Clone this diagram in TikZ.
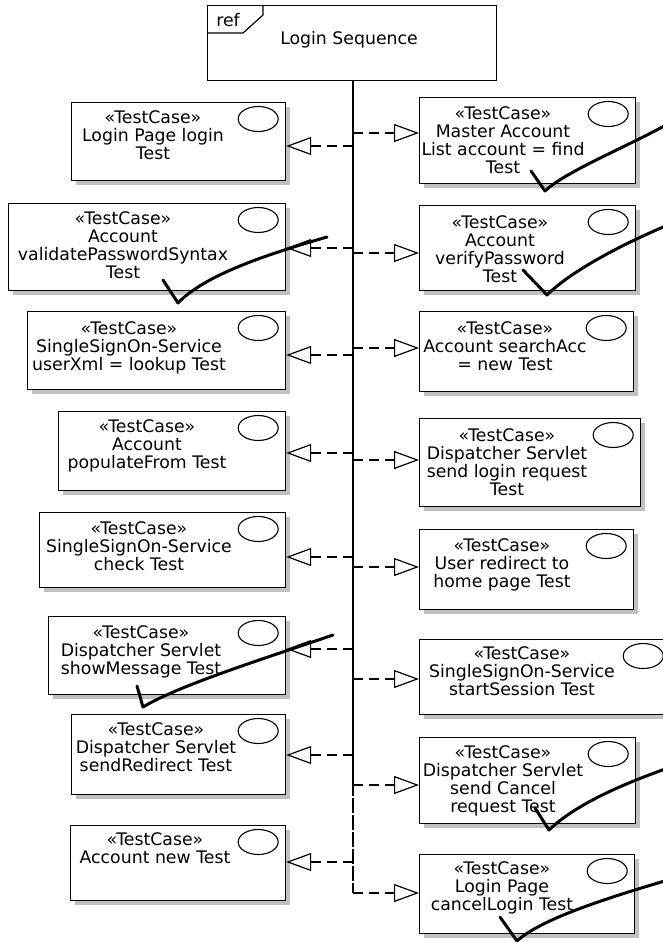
\documentclass[tikz,border=0pt]{standalone}
\usepackage{fontspec}
\setmainfont{DejaVu Sans}
\usetikzlibrary{arrows.meta,shapes.geometric,shadows}
\definecolor{shadowgray}{RGB}{192,192,192}

% one test-case box: name, left, top, right, bottom, text x, first-line y, text
\newcommand{\tcnode}[8]{%
  \node[tcbox, minimum width={#4-#2}, minimum height={#5-#3}] (#1) at (#2,-#3) {};
  \node[oval] (#1o) at ([shift={(-28pt,-17pt)}]#1.north east) {};
  \node[tclabel] (#1t) at (#6,{6.3-#7}) {#8};
}

\begin{document}
\begin{tikzpicture}[x=1pt,y=1pt,
  txt/.style={font=\fontsize{17.3}{18}\selectfont},
  tcbox/.style={draw, fill=white, line width=1.2pt, rectangle, inner sep=0pt,
    anchor=north west,
    general shadow={fill=shadowgray, shadow xshift=4pt, shadow yshift=-4pt}},
  oval/.style={draw, ellipse, line width=1.1pt, inner sep=0pt,
    minimum width=40pt, minimum height=25pt},
  tclabel/.style={txt, align=center, anchor=north, inner sep=0pt},
  dep/.style={line width=1.2pt, dash pattern=on 10pt off 6pt,
    -{Triangle[open, length=25pt, width=18pt]}},
  lifeline/.style={line width=2pt},
  check/.style={line width=3pt, line join=round, line cap=round}]

\fill[white] (0,0) rectangle (663,-942);
\useasboundingbox (0,0) rectangle (663,-942);

% interaction use frame
\node[draw, line width=1.2pt, fill=white, anchor=north west, inner sep=0pt,
      minimum width=289pt, minimum height=75pt] (ref) at (207,-5) {};
\draw[line width=1.2pt] (207,-33) -- (243,-33) -- (263,-15) -- (263,-5);
\node[txt, inner sep=0pt] (reftag) at (228,-20) {ref};
\node[txt, inner sep=0pt] (reftitle) at (349,-40) {Login Sequence};

% lifeline and its connection points
\coordinate (lifetop) at (353,-80);
\coordinate (lifebrk) at (353,-781);
\foreach \n/\y in {L1/146,L2/248,L3/355,L4/453,L5/557,L6/649,L7/755,L8/862,
                   R1/133,R2/253,R3/348,R4/460,R5/567,R6/679,R7/785,R8/893}
  \coordinate (c\n) at (353,-\y);
\draw[lifeline] (lifetop) -- (lifebrk);
\draw[lifeline, dash pattern=on 15pt off 2pt] (lifebrk) -- (cR8);

% left column
\tcnode{L1}{71}{102}{285}{180}{153}{117}{«TestCase»\\Login Page login\\Test}
\tcnode{L2}{8}{203}{285}{290}{123}{218}{«TestCase»\\Account\\validatePasswordSyntax\\Test}
\tcnode{L3}{27}{311}{285}{389}{129}{328}{«TestCase»\\SingleSignOn-Service\\userXml = lookup Test}
\tcnode{L4}{58}{411}{285}{490}{147}{426}{«TestCase»\\Account\\populateFrom Test}
\tcnode{L5}{39}{512}{285}{587}{139}{528}{«TestCase»\\SingleSignOn-Service\\check Test}
\tcnode{L6}{48}{616}{285}{694}{141}{632}{«TestCase»\\Dispatcher Servlet\\showMessage Test}
\tcnode{L7}{71}{714}{285}{794}{156}{729}{«TestCase»\\Dispatcher Servlet\\sendRedirect Test}
\tcnode{L8}{70}{825}{285}{900}{155}{839}{«TestCase»\\Account new Test}

% right column
\tcnode{R1}{419}{97}{635}{183}{503}{113}{«TestCase»\\Master Account\\List account = find\\Test}
\tcnode{R2}{419}{205}{635}{290}{500}{222}{«TestCase»\\Account\\verifyPassword\\Test}
\tcnode{R3}{419}{311}{633}{391}{505}{328}{«TestCase»\\Account searchAcc\\{=} new Test}
\tcnode{R4}{419}{418}{640}{506}{507}{435}{«TestCase»\\Dispatcher Servlet\\send login request\\Test}
\tcnode{R5}{419}{529}{633}{609}{502}{545}{«TestCase»\\User redirect to\\home page Test}
\tcnode{R6}{419}{639}{670}{714}{522}{653}{«TestCase»\\SingleSignOn-Service\\startSession Test}
\tcnode{R7}{419}{737}{635}{823}{503}{752}{«TestCase»\\Dispatcher Servlet\\send Cancel\\request Test}
\tcnode{R8}{419}{854}{634}{933}{502}{868}{«TestCase»\\Login Page\\cancelLogin Test}

% dependencies from the lifeline
\foreach \n in {L1,L2,L3,L4,L5,L6,L7,L8}
  \draw[dep] (c\n) -- (c\n -| \n.east);
\foreach \n in {R1,R2,R3,R4,R5,R6,R7,R8}
  \draw[dep] (c\n) -- (c\n -| \n.west);

% hand-drawn tick marks
\draw[check] (531,-171) -- (545,-191) .. controls (565,-172) and (620,-150) .. (668,-124);
\draw[check] (523,-270) -- (547,-295) .. controls (570,-272) and (620,-245) .. (668,-225);
\draw[check] (163,-280) -- (178,-303) .. controls (205,-275) and (265,-255) .. (327,-237);
\draw[check] (137,-686) -- (143,-707) .. controls (180,-685) and (260,-660) .. (333,-635);
\draw[check] (535,-808) -- (549,-830) .. controls (575,-805) and (620,-785) .. (668,-768);
\draw[check] (500,-917) -- (517,-941) .. controls (540,-920) and (600,-900) .. (668,-880);

\end{tikzpicture}
\end{document}
